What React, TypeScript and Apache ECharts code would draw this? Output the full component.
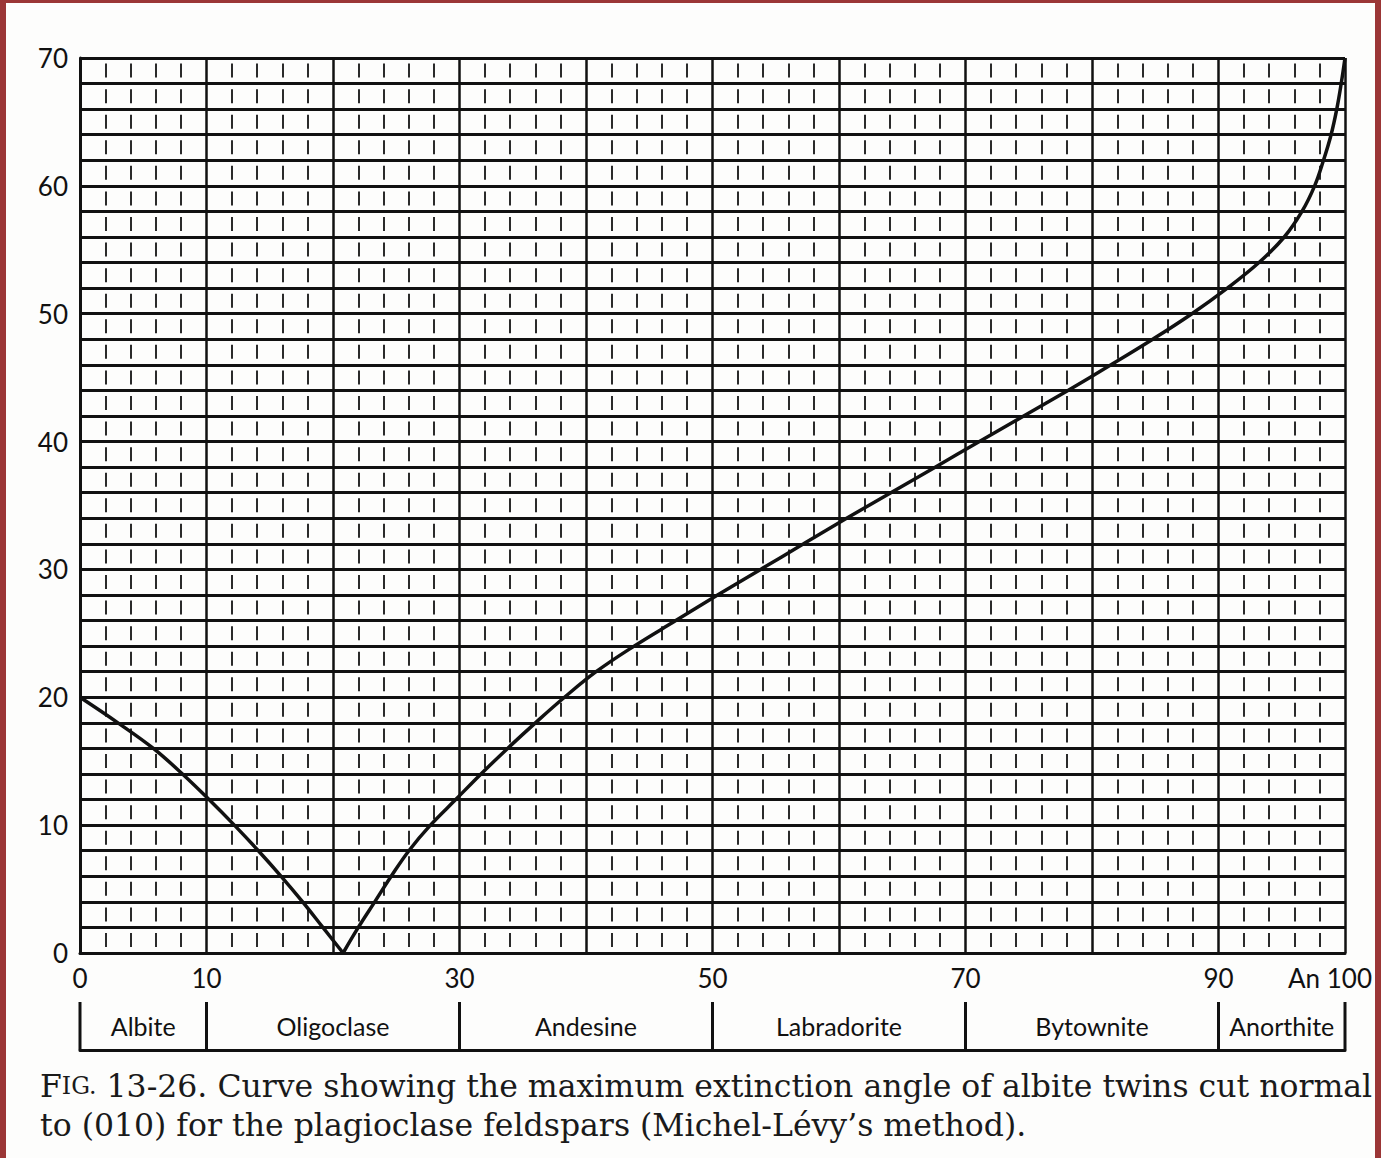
import React, { useEffect, useRef } from "react";
import * as echarts from "echarts";

// An content (%) and maximum extinction angle (degrees)
const anContent = [0, 3.0, 5.8, 8.1, 10.2, 12.2, 14.1, 15.9, 17.6, 19.2, 20.8, 22, 23.3, 24.6, 26, 27.7, 29.7, 31.7, 33.8, 36, 38.3, 40.8, 43.8, 47.1, 50.4, 53.8, 57.2, 60.6, 64.1, 67.6, 71.1, 74.6, 78.1, 81.5, 84.8, 87.9, 90.7, 93.2, 95.2, 96.6, 97.6, 98.3, 98.9, 99.35, 99.7, 100];
const extinctionAngle = [20, 18, 16, 14, 12, 10, 8, 6, 4, 2, 0, 2, 4, 6, 8, 10, 12, 14, 16, 18, 20, 22, 24, 26, 28, 30, 32, 34, 36, 38, 40, 42, 44, 46, 48, 50, 52, 54, 56, 58, 60, 62, 64, 66, 68, 70];
const minimumIndex = 10;

const xTickLabels: Record<number, string> = { 0: "0", 10: "10", 30: "30", 50: "50", 70: "70", 90: "90", 100: "{r|An 100}" };
const yTickLabels = ["0", "10", "20", "30", "40", "50", "60", "70"];

const mineralNames = ["Albite", "Oligoclase", "Andesine", "Labradorite", "Bytownite", "Anorthite"];
const mineralBounds = [0, 10, 30, 50, 70, 90, 100];

const captionLine1 = " 13-26. Curve showing the maximum extinction angle of albite twins cut normal";
const captionLine2 = "to (010) for the plagioclase feldspars (Michel-Lévy’s method).";

const SANS = "Lato, 'Noto Sans', 'DejaVu Sans', sans-serif";
const SERIF = "'DejaVu Serif', 'Liberation Serif', serif";

export default function App() {
  const ref = useRef<HTMLDivElement>(null);
  useEffect(() => {
    if (!ref.current) return;
    const chart = echarts.init(ref.current, null, { renderer: "svg" });
    const pts = anContent.map((x, i) => [x, extinctionAngle[i]]);
    const leftBranch = pts.slice(0, minimumIndex + 1);
    const rightBranch = pts.slice(minimumIndex);
    const bracketData = mineralNames.map((n, i) => [mineralBounds[i], mineralBounds[i + 1], n]);
    const gridH = 895;
    const cell = gridH / 35;
    const dash = 14;
    const gap = cell - dash;
    const offset = cell - (gap / 2);

    chart.setOption({
      animation: false,
      backgroundColor: "#9b3636",
      graphic: [
        { type: "rect", left: 6, top: 3, shape: { width: 1369, height: 1155 }, style: { fill: "#fdfdfc" }, z: -10 },
        {
          type: "text", left: 40, top: 1070,
          style: {
            text: "{a|F}{b|IG.}{c|" + captionLine1 + "}",
            rich: {
              a: { fontFamily: SERIF, fontSize: 31.5, fill: "#1a1a1a" },
              b: { fontFamily: SERIF, fontSize: 23.5, fill: "#1a1a1a" },
              c: { fontFamily: SERIF, fontSize: 31.5, fill: "#1a1a1a" },
            },
          },
        },
        {
          type: "text", left: 40, top: 1109,
          style: { text: captionLine2, font: "31.5px " + SERIF, fill: "#1a1a1a" },
        },
      ],
      grid: [
        { left: 80, top: 58, width: 1265, height: gridH },
        { left: 80, top: 1002, width: 1265, height: 48 },
      ],
      xAxis: [
        {
          gridIndex: 0, type: "value", min: 0, max: 100, interval: 10,
          axisLine: { show: true, lineStyle: { color: "#111", width: 3 } },
          axisTick: { show: false },
          minorTick: { show: false, splitNumber: 5 },
          axisLabel: {
            color: "#111", fontFamily: SANS, fontSize: 26, margin: 12,
            formatter: (v: number) => xTickLabels[v] ?? "",
            rich: { r: { color: "#111", fontFamily: SANS, fontSize: 26, padding: [0, 30, 0, 0] } },
          },
          splitLine: { show: true, lineStyle: { color: "#111", width: 2.5 } },
          minorSplitLine: { show: true, lineStyle: { color: "#2a2a2a", width: 2, type: [dash, gap], dashOffset: offset } },
        },
        {
          gridIndex: 1, type: "value", min: 0, max: 100,
          axisLine: { show: true, lineStyle: { color: "#111", width: 3 } },
          axisTick: { show: false }, axisLabel: { show: false }, splitLine: { show: false },
        },
      ],
      yAxis: [
        {
          gridIndex: 0, type: "value", min: 0, max: 70, interval: 10,
          axisLine: { show: true, lineStyle: { color: "#111", width: 3 } },
          axisTick: { show: false },
          minorTick: { show: false, splitNumber: 5 },
          axisLabel: {
            color: "#111", fontFamily: SANS, fontSize: 26, margin: 12,
            formatter: (v: number) => yTickLabels[Math.round(v / 10)] ?? "",
          },
          splitLine: { show: true, lineStyle: { color: "#111", width: 3 } },
          minorSplitLine: { show: true, lineStyle: { color: "#111", width: 3 } },
        },
        { gridIndex: 1, type: "value", min: 0, max: 1, show: false },
      ],
      series: [
        {
          type: "line", xAxisIndex: 0, yAxisIndex: 0, data: leftBranch, smooth: 0.4,
          symbol: "none", lineStyle: { color: "#111", width: 3.5 }, clip: false, z: 5,
        },
        {
          type: "line", xAxisIndex: 0, yAxisIndex: 0, data: rightBranch, smooth: 0.4,
          symbol: "none", lineStyle: { color: "#111", width: 3.5 }, clip: false, z: 5,
        },
        {
          type: "custom", xAxisIndex: 1, yAxisIndex: 1, data: bracketData, clip: false,
          renderItem: (params: any, api: any) => {
            const s = api.coord([api.value(0), 1]);
            const e = api.coord([api.value(1), 0]);
            const children: any[] = [
              { type: "line", shape: { x1: s[0], y1: s[1], x2: s[0], y2: e[1] }, style: { stroke: "#111", lineWidth: 3 } },
              {
                type: "text",
                style: {
                  text: mineralNames[params.dataIndex], x: (s[0] + e[0]) / 2, y: (s[1] + e[1]) / 2,
                  align: "center", verticalAlign: "middle", font: "25px " + SANS, fill: "#111",
                },
              },
            ];
            if (params.dataIndex === mineralNames.length - 1) {
              children.push({ type: "line", shape: { x1: e[0], y1: s[1], x2: e[0], y2: e[1] }, style: { stroke: "#111", lineWidth: 3 } });
            }
            return { type: "group", children };
          },
        },
      ],
    });
    return () => chart.dispose();
  }, []);
  return (
    <div style={{ position: "fixed", left: 0, top: 0, width: 1381, height: 1158 }}>
      <div ref={ref} style={{ width: 1381, height: 1158 }} />
    </div>
  );
}
